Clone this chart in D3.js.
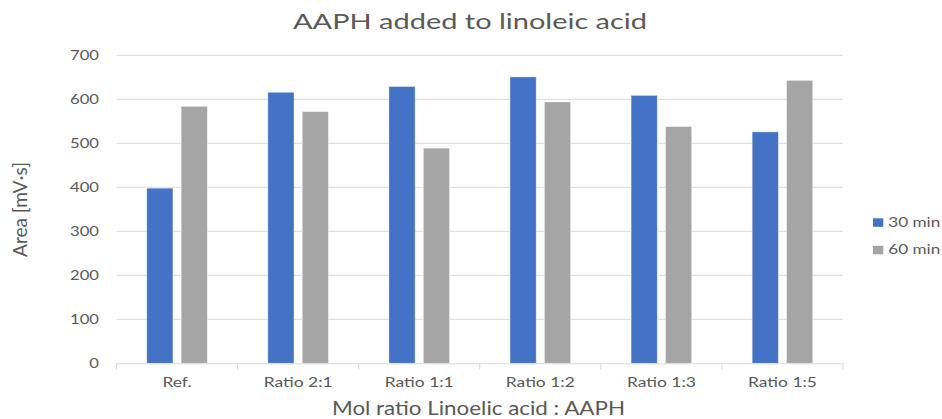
<!DOCTYPE html>
<html><head><meta charset="utf-8">
<script src="https://cdn.jsdelivr.net/npm/d3@7"></script>
<style>body{margin:0;background:#fff}svg{display:block}</style>
</head><body>
<svg id="c" width="942" height="419"></svg>
<script>
const categories = ["Ref.", "Ratio 2:1", "Ratio 1:1", "Ratio 1:2", "Ratio 1:3", "Ratio 1:5"];
const series = ["30 min", "60 min"];
const values30 = [398, 616, 629, 651, 609, 526];
const values60 = [584, 572, 489, 594, 538, 643];
const yTicks = [0, 100, 200, 300, 400, 500, 600, 700];
const colors = ["#4472C4", "#A5A5A5"];

const svg = d3.select("#c");
const font = "Lato, 'Open Sans', sans-serif";
const txt = "#595959";
const L = 116.5, R = 843, T = 55.3, B = 363.3;

const x = d3.scaleBand().domain(categories).range([L, R]).paddingInner(0).paddingOuter(0);
const y = d3.scaleLinear().domain([0, 700]).range([B, T]);

function stretch(sel, k) {
  sel.each(function () {
    const w = this.getComputedTextLength();
    d3.select(this).attr("textLength", w * k).attr("lengthAdjust", "spacingAndGlyphs");
  });
}

// gridlines
svg.append("g").selectAll("line").data(yTicks.filter(d => d > 0)).join("line")
  .attr("x1", L).attr("x2", R).attr("y1", d => y(d)).attr("y2", d => y(d))
  .attr("stroke", "#D9D9D9").attr("stroke-width", 1);

// bars
const bw = 26.2, gap = 8.2;
const g = svg.append("g");
categories.forEach((c, i) => {
  const cx = x(c) + x.bandwidth() / 2;
  [values30[i], values60[i]].forEach((v, s) => {
    const x0 = s === 0 ? cx - gap / 2 - bw : cx + gap / 2;
    g.append("rect").attr("x", x0).attr("width", bw)
      .attr("y", y(v)).attr("height", y(0) - y(v))
      .attr("fill", colors[s]).attr("stroke", "#fff").attr("stroke-opacity", 0.5).attr("stroke-width", 0.8);
  });
});

// x axis
const xa = svg.append("g").attr("transform", `translate(0,${B})`)
  .call(d3.axisBottom(x).tickSize(0).tickPadding(15));
xa.select(".domain").attr("stroke", "#D9D9D9");
xa.selectAll("text").attr("font-family", font).attr("font-size", 12.5).attr("fill", txt);
{
  const ref = xa.selectAll("text").filter(d => d === "Ratio 2:1").node();
  const k = 69 / ref.getComputedTextLength();
  stretch(xa.selectAll("text"), k);
}
svg.append("g").selectAll("line").data(d3.range(categories.length + 1)).join("line")
  .attr("x1", i => L + i * x.step()).attr("x2", i => L + i * x.step())
  .attr("y1", B).attr("y2", B + 6).attr("stroke", "#D9D9D9");

// y axis
const ya = svg.append("g").attr("transform", `translate(${L},0)`)
  .call(d3.axisLeft(y).tickValues(yTicks).tickSize(0).tickPadding(17.5));
ya.select(".domain").remove();
ya.selectAll("text").attr("font-family", font).attr("font-size", 13.5).attr("fill", txt);
{
  const ref = ya.selectAll("text").filter(d => d === 400).node();
  const k = 29 / ref.getComputedTextLength();
  stretch(ya.selectAll("text"), k);
}

// titles
svg.append("text").attr("x", 470).attr("y", 29).attr("text-anchor", "middle")
  .attr("font-family", font).attr("font-size", 21.5).attr("fill", txt)
  .attr("textLength", 354).attr("lengthAdjust", "spacingAndGlyphs")
  .text("AAPH added to linoleic acid");
svg.append("text").attr("x", 478.5).attr("y", 415).attr("text-anchor", "middle")
  .attr("font-family", font).attr("font-size", 18.5).attr("fill", txt)
  .attr("textLength", 293).attr("lengthAdjust", "spacingAndGlyphs")
  .text("Mol ratio Linoelic acid : AAPH");
svg.append("text").attr("transform", "translate(26.5,209.5) scale(1.4,1) rotate(-90)").attr("text-anchor", "middle")
  .attr("font-family", font).attr("font-size", 14).attr("fill", txt)
  .attr("textLength", 95).attr("lengthAdjust", "spacingAndGlyphs")
  .text("Area [mV·s]");

// legend
const lg = svg.append("g");
series.forEach((s, i) => {
  const yy = 218.3 + i * 27.5;
  lg.append("rect").attr("x", 873).attr("y", yy).attr("width", 10.3).attr("height", 8.5).attr("fill", colors[i]);
  lg.append("text").attr("x", 888.3).attr("y", yy + 8.4).attr("font-family", font).attr("font-size", 13)
    .attr("fill", txt).attr("textLength", 52).attr("lengthAdjust", "spacingAndGlyphs").text(s);
});
</script>
</body></html>
